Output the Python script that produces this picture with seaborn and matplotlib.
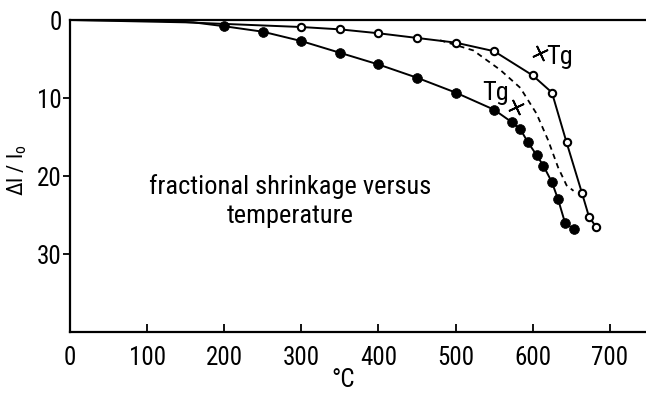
import matplotlib
matplotlib.use("Agg")
import matplotlib.pyplot as plt
from matplotlib import font_manager
import seaborn as sns
import pandas as pd

# ---- data ----
filled_T = [200, 250, 300, 350, 400, 450, 500, 550, 573, 584, 594, 605, 614, 625, 633, 642, 653]
filled_S = [0.8, 1.5, 2.7, 4.2, 5.7, 7.4, 9.3, 11.5, 13.1, 14.0, 15.7, 17.3, 18.7, 20.8, 23.0, 26.0, 26.8]
filled_lead_T = [0, 100, 160]
filled_lead_S = [0.0, 0.05, 0.3]

open_T = [300, 350, 400, 450, 500, 550, 600, 625, 644, 664, 673, 682]
open_S = [0.9, 1.2, 1.7, 2.3, 2.9, 4.0, 7.1, 9.3, 15.7, 22.2, 25.2, 26.5]
open_lead_T = [0, 150, 250]
open_lead_S = [0.0, 0.3, 0.7]

dash_T = [480, 523, 558, 584, 605, 620, 633, 644, 653]
dash_S = [2.6, 3.9, 6.4, 8.7, 12.0, 15.4, 18.9, 21.2, 21.9]

tg_T = [610, 578]
tg_S = [4.2, 11.1]

x_ticks = [0, 100, 200, 300, 400, 500, 600, 700]
y_ticks = [0, 10, 20, 30]

sns.set_theme(style="ticks")

# pick a narrow-ish font if one is available
names = {f.name for f in font_manager.fontManager.ttflist}
dv_cond = any(f.name == "DejaVu Sans" and "condensed" in str(f.stretch).lower()
              for f in font_manager.fontManager.ttflist)
stretch = "normal"
if "Roboto Condensed" in names:
    fam, tick_fs, note_fs = "Roboto Condensed", 18, 19
elif "Liberation Sans Narrow" in names:
    fam, tick_fs, note_fs = "Liberation Sans Narrow", 19, 19
elif dv_cond:
    fam, tick_fs, note_fs, stretch = "DejaVu Sans", 15.5, 17, "condensed"
else:
    fam, tick_fs, note_fs = "Roboto", 16, 17.5
plt.rcParams['font.family'] = [fam, 'DejaVu Sans']
plt.rcParams['font.stretch'] = stretch
plt.rcParams['text.color'] = 'black'
plt.rcParams['axes.labelcolor'] = 'black'
plt.rcParams['xtick.color'] = 'black'
plt.rcParams['ytick.color'] = 'black'
plt.rcParams['mathtext.fontset'] = 'custom'
plt.rcParams['mathtext.rm'] = fam

fig = plt.figure(figsize=(6.46, 3.95), dpi=100)
ax = fig.add_axes([70/646, 63/395, 1 - 70/646, 312/395])

k = "black"
df_f = pd.DataFrame({"T": filled_lead_T + filled_T, "S": filled_lead_S + filled_S})
df_o = pd.DataFrame({"T": open_lead_T + open_T, "S": open_lead_S + open_S})
df_d = pd.DataFrame({"T": dash_T, "S": dash_S})

sns.lineplot(data=df_f, x="T", y="S", sort=False, color=k, lw=1.4, ax=ax)
sns.lineplot(data=df_o, x="T", y="S", sort=False, color=k, lw=1.4, ax=ax)
sns.lineplot(data=df_d, x="T", y="S", sort=False, color=k, lw=1.3, ax=ax,
             linestyle=(0, (3, 2.5)))
sns.scatterplot(x=filled_T, y=filled_S, color=k, s=50, edgecolor=k, linewidth=0.5, ax=ax, zorder=5)
sns.scatterplot(x=open_T, y=open_S, color="white", s=28, edgecolor=k, linewidth=1.5, ax=ax, zorder=5)
sns.scatterplot(x=tg_T, y=tg_S, marker=(4, 2, 25), s=120, color=k, linewidth=1.3, ax=ax, zorder=6)

ax.text(tg_T[0] + 7, tg_S[0] + 0.5, "Tg", fontsize=note_fs, va="center", ha="left")
ax.text(tg_T[1] - 9, tg_S[1] - 1.8, "Tg", fontsize=note_fs, va="center", ha="right")

ax.text(285, 23.2, "fractional shrinkage versus\ntemperature", fontsize=note_fs,
        ha="center", va="center", linespacing=1.3)

ax.set_xlim(0, 747)
ax.set_ylim(40, 0)
ax.set_xticks(x_ticks)
ax.set_yticks(y_ticks)
ax.set_xticklabels([str(v) for v in x_ticks], fontsize=tick_fs)
ax.set_yticklabels([str(v) for v in y_ticks], fontsize=tick_fs)
ax.tick_params(axis="x", direction="in", length=6, width=1.3, pad=10, color=k)
ax.tick_params(axis="y", direction="out", length=5, width=1.3, pad=1, color=k)
ax.xaxis.get_major_ticks()[0].tick1line.set_visible(False)
ax.yaxis.get_major_ticks()[0].tick1line.set_visible(False)

ax.set_xlabel("°C", fontsize=tick_fs)
ax.xaxis.set_label_coords(0.474, -0.115)
ax.set_ylabel("Δl / l$_\\mathregular{o}$", fontsize=16)
ax.yaxis.set_label_coords(-0.072, 0.52)

for s in ["left", "bottom", "top"]:
    ax.spines[s].set_visible(True)
    ax.spines[s].set_linewidth(1.6)
    ax.spines[s].set_color(k)
ax.spines["right"].set_visible(False)
ax.grid(False)

fig.savefig("out.png", dpi=100, facecolor="white")
